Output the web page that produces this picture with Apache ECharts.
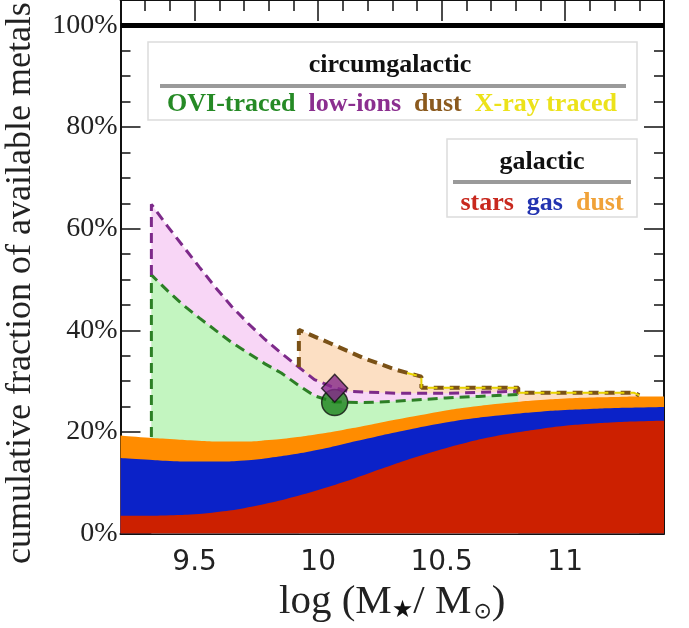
<!DOCTYPE html>
<html>
<head>
<meta charset="utf-8">
<script src="https://cdn.jsdelivr.net/npm/echarts@6/dist/echarts.min.js"></script>
<style>
  html, body { margin: 0; padding: 0; background: #fff; }
  #chart { width: 689px; height: 628px; }
</style>
</head>
<body>
<div id="chart"></div>
<script>
// galactic budget, cumulative (% of available metals) vs log stellar mass
var massGrid = [9.2, 9.3, 9.4, 9.5, 9.6, 9.7, 9.8, 9.9, 10.0, 10.1, 10.2, 10.3,
                10.4, 10.5, 10.6, 10.7, 10.8, 10.9, 11.0, 11.1, 11.2, 11.3, 11.4];
var starsTop = [3.5, 3.5, 3.6, 3.8, 4.3, 5.0, 6.0, 7.2, 8.6, 10.1, 11.8, 13.5,
                15.1, 16.6, 17.9, 19.0, 19.9, 20.6, 21.2, 21.6, 21.9, 22.1, 22.2];
var gasTop   = [14.9, 14.6, 14.3, 14.2, 14.2, 14.4, 14.9, 15.6, 16.5, 17.6, 18.7, 19.8,
                20.8, 21.7, 22.5, 23.1, 23.6, 24.0, 24.3, 24.5, 24.7, 24.8, 24.9];
var dustTop  = [19.3, 18.9, 18.6, 18.3, 18.1, 18.1, 18.4, 18.9, 19.6, 20.4, 21.3, 22.3,
                23.2, 24.1, 24.8, 25.4, 25.9, 26.3, 26.6, 26.8, 26.9, 27.0, 27.0];

// circumgalactic components (cumulative), [logM, %]
var oviLine = [[9.325, 19.0], [9.325, 50.9], [9.39, 47.8], [9.451, 45.1], [9.52, 42.4],
               [9.585, 40.0], [9.65, 37.6], [9.718, 35.5], [9.785, 33.4], [9.851, 31.6],
               [9.92, 29.2], [9.985, 27.1], [10.065, 25.9], [10.185, 25.8], [10.3, 26.0],
               [10.518, 26.7], [10.65, 27.0], [10.81, 27.4]];
var lowIonLine = [[9.325, 50.9], [9.325, 64.8], [9.39, 60.5], [9.451, 56.7], [9.52, 52.4],
                  [9.585, 48.4], [9.65, 44.7], [9.718, 41.3], [9.785, 38.2], [9.851, 35.5],
                  [9.92, 32.8], [9.985, 30.3], [10.05, 29.0], [10.118, 28.0], [10.318, 27.6],
                  [10.518, 27.6], [10.81, 28.0]];
var cgmDustLine = [[9.922, 32.8], [9.922, 40.1], [10.051, 37.4], [10.185, 34.5],
                   [10.318, 32.2], [10.418, 30.9], [10.418, 28.7], [10.81, 28.7],
                   [10.81, 27.7], [11.28, 27.7], [11.3, 27.2]];
var xrayLine = [[10.36, 31.6], [10.418, 30.9], [10.418, 28.7], [10.81, 28.7],
                [10.81, 27.7], [11.28, 27.7], [11.3, 27.2]];
var oviPoint = [[10.067, 25.8]];
var lowIonPoint = [[10.067, 28.6]];

// axis ticks / labels
var xMajorTicks = [9.5, 10, 10.5, 11];
var xMinorTicks = [9.3, 9.4, 9.6, 9.7, 9.8, 9.9, 10.1, 10.2, 10.3, 10.4,
                   10.6, 10.7, 10.8, 10.9, 11.1, 11.2, 11.3];
var yMajorTicks = [0, 20, 40, 60, 80, 100];
var yMinorTicks = [5, 10, 15, 25, 30, 35, 45, 50, 55, 65, 70, 75, 85, 90, 95];

var serif = '"Liberation Serif", "Times New Roman", serif';
var legendFont = 'bold 26px ' + serif;

function zip(xs, ys) {
    var out = [];
    for (var i = 0; i < xs.length; i++) out.push([xs[i], ys[i]]);
    return out;
}

function xAxisDef(pos, ticks, len, withLine, withLabels) {
    return {
        type: 'value', position: pos, min: 9.2, max: 11.4,
        splitLine: { show: false },
        axisLine: { show: withLine, onZero: false, lineStyle: { color: '#111', width: 2 } },
        axisTick: { show: true, inside: true, length: len, customValues: ticks,
                    lineStyle: { color: '#111', width: 1.5 } },
        axisLabel: withLabels ? {
            show: true, customValues: xMajorTicks, margin: 15,
            fontFamily: '"DejaVu Sans", sans-serif', fontSize: 28, color: '#222'
        } : { show: false },
        name: withLabels ? 'log (M{s|\u2605}/ M{o|\u2299})' : '',
        nameLocation: 'middle', nameGap: 42,
        nameTextStyle: {
            fontFamily: serif, fontSize: 41, color: '#222',
            rich: {
                s: { fontSize: 24, color: '#111', fontFamily: '"DejaVu Sans"', verticalAlign: 'bottom', padding: [18, 0, 0, 0] },
                o: { fontSize: 22, color: '#222', fontFamily: '"DejaVu Sans"', verticalAlign: 'bottom', padding: [13, 0, 0, 2] }
            }
        }
    };
}

function yAxisDef(pos, ticks, len, withLine, withLabels) {
    return {
        type: 'value', position: pos, min: 0, max: 105,
        splitLine: { show: false },
        axisLine: { show: withLine, onZero: false, lineStyle: { color: '#111', width: 2 } },
        axisTick: { show: true, inside: true, length: len, customValues: ticks,
                    lineStyle: { color: '#111', width: 1.5 } },
        axisLabel: withLabels ? {
            show: true, customValues: yMajorTicks, margin: 3,
            formatter: '{value}%', fontFamily: serif, fontSize: 28, color: '#222'
        } : { show: false }
    };
}

function area(data, color, smooth) {
    return {
        type: 'line', data: data, symbol: 'none', smooth: smooth, silent: true,
        lineStyle: { width: 0 },
        areaStyle: { color: color, opacity: 1 }
    };
}

function dashed(data, color, width) {
    return {
        type: 'line', data: data, symbol: 'none', silent: true, z: 5,
        lineStyle: { color: color, width: width, type: [10, 6] }
    };
}

var chart = echarts.init(document.getElementById('chart'), null, { renderer: 'canvas' });

chart.setOption({
    animation: false,
    backgroundColor: '#fff',
    grid: { left: 120.5, right: 25, top: -3, bottom: 88, containLabel: false },
    xAxis: [
        xAxisDef('bottom', xMinorTicks, 9, true, true),
        xAxisDef('bottom', xMajorTicks, 19, false, false),
        xAxisDef('top', xMinorTicks, 11, true, false),
        xAxisDef('top', xMajorTicks, 21, false, false)
    ],
    yAxis: [
        yAxisDef('left', yMinorTicks, 10, true, true),
        yAxisDef('left', yMajorTicks, 20, false, false),
        yAxisDef('right', yMinorTicks, 10, true, false),
        yAxisDef('right', yMajorTicks, 20, false, false)
    ],
    series: [
        area(cgmDustLine, '#fcdfc3', false),
        area(lowIonLine, '#f8d6f6', false),
        area(oviLine, '#c3f5c0', false),
        area(zip(massGrid, dustTop), '#ff8c00', true),
        area(zip(massGrid, gasTop), '#0b22c8', true),
        area(zip(massGrid, starsTop), '#cc2000', true),
        dashed(oviLine, '#2c7f25', 3),
        dashed(lowIonLine, '#7d2a8a', 3),
        dashed(cgmDustLine, '#7a5116', 4),
        dashed(xrayLine, '#e8d400', 2),
        {
            type: 'scatter', data: oviPoint, symbol: 'circle', symbolSize: 26, z: 6, silent: true,
            itemStyle: { color: '#1a821a', borderColor: '#111', borderWidth: 1.5 },
            markLine: {
                silent: true, symbol: 'none', label: { show: false },
                lineStyle: { color: '#000', width: 5, type: 'solid' },
                data: [{ yAxis: 100 }]
            }
        },
        {
            type: 'scatter', data: lowIonPoint, symbol: 'diamond', symbolSize: [26, 28], z: 7, silent: true,
            itemStyle: { color: '#84288a', borderColor: '#111', borderWidth: 1.5 }
        }
    ],
    graphic: [
        {
            type: 'text', x: 21, y: 283, rotation: Math.PI / 2, silent: true,
            style: { text: 'cumulative fraction of available metals', font: '36px ' + serif,
                     fill: '#222', align: 'center', verticalAlign: 'middle' }
        },
        {
            type: 'rect', shape: { x: 148, y: 42, width: 489, height: 78 }, silent: true, z: 10,
            style: { fill: '#fff', stroke: '#dcdcdc', lineWidth: 1.5 }
        },
        {
            type: 'text', x: 390, y: 65, z: 11, silent: true,
            style: { text: 'circumgalactic', font: legendFont, fill: '#111',
                     align: 'center', verticalAlign: 'middle' }
        },
        {
            type: 'line', shape: { x1: 160, y1: 86, x2: 626, y2: 86 }, z: 11, silent: true,
            style: { stroke: '#9a9a9a', lineWidth: 4 }
        },
        {
            type: 'text', x: 392, y: 104, z: 11, silent: true,
            style: {
                text: '{g|OVI-traced}  {p|low-ions}  {b|dust}  {y|X-ray traced}',
                font: legendFont, align: 'center', verticalAlign: 'middle',
                rich: {
                    g: { fill: '#258a25', font: legendFont },
                    p: { fill: '#8b2f8f', font: legendFont },
                    b: { fill: '#8b5a1e', font: legendFont },
                    y: { fill: '#ece21a', font: legendFont }
                }
            }
        },
        {
            type: 'rect', shape: { x: 447, y: 139, width: 190, height: 78 }, silent: true, z: 10,
            style: { fill: '#fff', stroke: '#dcdcdc', lineWidth: 1.5 }
        },
        {
            type: 'text', x: 542, y: 162, z: 11, silent: true,
            style: { text: 'galactic', font: legendFont, fill: '#111',
                     align: 'center', verticalAlign: 'middle' }
        },
        {
            type: 'line', shape: { x1: 453, y1: 182, x2: 631, y2: 182 }, z: 11, silent: true,
            style: { stroke: '#9a9a9a', lineWidth: 4 }
        },
        {
            type: 'text', x: 542, y: 203, z: 11, silent: true,
            style: {
                text: '{r|stars}  {u|gas}  {o|dust}',
                font: legendFont, align: 'center', verticalAlign: 'middle',
                rich: {
                    r: { fill: '#c8281e', font: legendFont },
                    u: { fill: '#2233b0', font: legendFont },
                    o: { fill: '#f0a238', font: legendFont }
                }
            }
        }
    ]
});
</script>
</body>
</html>
